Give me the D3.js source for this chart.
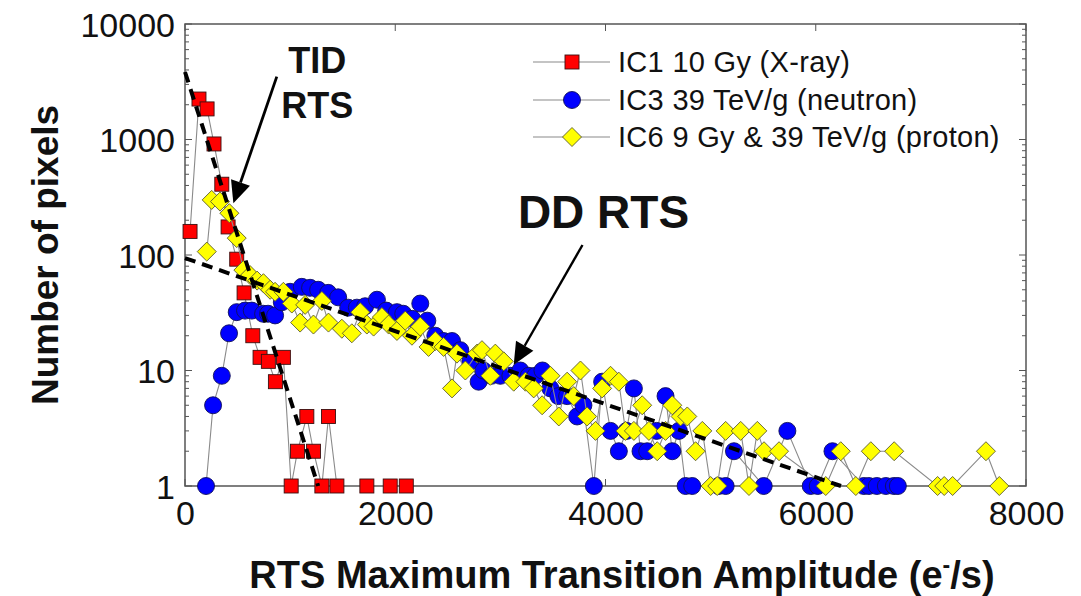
<!DOCTYPE html>
<html>
<head>
<meta charset="utf-8">
<script src="https://cdn.jsdelivr.net/npm/d3@7"></script>
<style>
  html, body { margin: 0; padding: 0; background: #fff; }
  svg { display: block; }
  text { font-family: "Liberation Sans", Arial, Helvetica, sans-serif; fill: #111; }
</style>
</head>
<body>
<svg id="chart" width="1081" height="596"></svg>
<script>
// RTS amplitude histograms for three irradiated image sensors
const ic1X = [48,133,210,276,350,410,492,562,645,714,793,860,936,1010,1070,1159,1222,1302,1365,1445,1730,1952,2105];
const ic1N = [160,2240,1840,915,410,175,92,47,20,13,12,8,13,1,2,4,2,1,4,1,1,1,1];

const ic3X = [200,267,350,419,492,571,635,743,790,857,921,1000,1111,1190,1267,1362,1457,1552,1635,1714,1826,1914,2016,2076,2162,2238,2305,2381,2460,2540,2619,2714,2793,2838,2914,3000,3095,3190,3270,3333,3400,3476,3552,3635,3730,3790,3889,3968,4048,4127,4200,4270,4333,4397,4486,4571,4635,4698,4762,4825,5076,5143,5222,5505,5730,5952,6019,6159,6457,6505,6581,6667,6743,6781];
const ic3N = [1,5,9,21,32,33,33,31,31,30,39,48,53,52,50,47,43,35,35,36,41,33,32,31,28,38,27,20,18,18,15,12,8,10,9,9,9,10,9,9,10,7,6,6,4,5,1,8,3,2,3,7,2,2,3,6,2,3,1,1,1,1,2,1,3,1,1,2,1,1,1,1,1,1];

const ic6X = [207,254,333,422,492,555,619,686,746,810,857,936,1016,1095,1143,1222,1302,1365,1492,1587,1667,1730,1794,1873,1937,2016,2095,2159,2238,2317,2381,2460,2540,2587,2667,2778,2825,2905,2952,3032,3127,3238,3317,3397,3476,3556,3635,3698,3762,3825,3905,3968,4048,4127,4190,4270,4349,4413,4492,4571,4635,4714,4778,4857,4921,5000,5063,5143,5286,5365,5444,5508,5651,6095,6238,6381,6524,6746,7159,7222,7302,7619,7746];
const ic6N = [107,300,290,230,140,74,67,60,57,50,48,48,38,26,37,25,40,26,23,21,32,25,24,29,25,22,27,20,24,16,18,16,7,14,10,14,15,9,14,12,8,8,7,5,9,4,8,6,10,4,3,7,9,8,3,3,5,3,2,3,5,4,4,2,3,1,1,3,3,1,3,2,2,1,2,1,2,2,1,1,1,2,1];

// Exponential fits (straight on the log axis): [amplitude, count] end points
const tidFit = [[0, 3840], [1267, 1]];
const ddFit = [[0, 94], [6240, 1]];

const seriesNames = ["IC1 10 Gy (X-ray)", "IC3 39 TeV/g (neutron)", "IC6 9 Gy & 39 TeV/g (proton)"];
const xTicks = [0, 2000, 4000, 6000, 8000];
const yTicks = [1, 10, 100, 1000, 10000];

const svg = d3.select("#chart");
const L = 185, R = 1026, T = 24, B = 486;

const x = d3.scaleLinear().domain([0, 8000]).range([L, R]);
const y = d3.scaleLog().domain([1, 10000]).range([B, T]);

const zip = (xs, ns) => xs.map((v, i) => [v, ns[i]]);
const ic1 = zip(ic1X, ic1N), ic3 = zip(ic3X, ic3N), ic6 = zip(ic6X, ic6N);

// Axes: ticks pointing inward on all four sides
const minorY = [];
for (let d = 1; d < 10000; d *= 10) for (let k = 1; k <= 9; k++) minorY.push(d * k);
minorY.push(10000);

const axisColor = "#555";
const frame = svg.append("g");

const gl = frame.append("g").attr("transform", `translate(${L},0)`);
const gr = frame.append("g").attr("transform", `translate(${R},0)`);
minorY.forEach(v => {
  const major = yTicks.includes(v);
  gl.append("line").attr("x1", 0).attr("x2", major ? 7 : 4)
    .attr("y1", y(v)).attr("y2", y(v)).attr("stroke", axisColor).attr("stroke-width", 1);
  gr.append("line").attr("x1", 0).attr("x2", major ? -7 : -4)
    .attr("y1", y(v)).attr("y2", y(v)).attr("stroke", axisColor).attr("stroke-width", 1);
});

// tick labels via axis generators
const yAxis = d3.axisLeft(y).tickValues(yTicks).tickFormat(d3.format("d")).tickSize(0).tickPadding(10);
const gyA = svg.append("g").attr("transform", `translate(${L},0)`).call(yAxis);
gyA.select(".domain").remove();
gyA.selectAll("text").attr("font-size", 34).attr("fill", "#111")
  .attr("font-family", "Liberation Sans, Arial, sans-serif").attr("dy", "0.36em");

const xAxis = d3.axisBottom(x).tickValues(xTicks).tickFormat(d3.format("d")).tickSize(0).tickPadding(13);
const gxA = svg.append("g").attr("transform", `translate(0,${B})`).call(xAxis);
gxA.select(".domain").remove();
gxA.selectAll("text").attr("font-size", 34).attr("fill", "#111")
  .attr("font-family", "Liberation Sans, Arial, sans-serif").attr("dy", "0.75em");

xTicks.forEach(v => {
  frame.append("line").attr("x1", x(v)).attr("x2", x(v)).attr("y1", B).attr("y2", B - 7)
    .attr("stroke", axisColor);
  frame.append("line").attr("x1", x(v)).attr("x2", x(v)).attr("y1", T).attr("y2", T + 7)
    .attr("stroke", axisColor);
});

frame.append("rect").attr("x", L).attr("y", T).attr("width", R - L).attr("height", B - T)
  .attr("fill", "none").attr("stroke", axisColor).attr("stroke-width", 1.5);

// Series: connecting line then markers
const line = d3.line().x(d => x(d[0])).y(d => y(d[1]));
const plot = svg.append("g");

const markerDraw = {
  square: (g, px, py) => g.append("rect").attr("x", px - 7).attr("y", py - 7).attr("width", 14).attr("height", 14),
  circle: (g, px, py) => g.append("circle").attr("cx", px).attr("cy", py).attr("r", 8.5),
  diamond: (g, px, py) => g.append("path").attr("d", `M${px},${py - 9.5}L${px + 9.5},${py}L${px},${py + 9.5}L${px - 9.5},${py}Z`)
};

const series = [
  { data: ic1, shape: "square", fill: "#ff0000", edge: "#3a1010" },
  { data: ic3, shape: "circle", fill: "#0000ff", edge: "#10105a" },
  { data: ic6, shape: "diamond", fill: "#ffff00", edge: "#5a5a30" }
];

series.forEach(s => {
  const g = plot.append("g");
  g.append("path").attr("d", line(s.data)).attr("fill", "none").attr("stroke", "#8a8a8a").attr("stroke-width", 1.1);
  s.data.forEach(d => {
    markerDraw[s.shape](g, x(d[0]), y(d[1])).attr("fill", s.fill).attr("stroke", s.edge).attr("stroke-width", 0.9);
  });
});

// Fit lines
[tidFit, ddFit].forEach(f => {
  plot.append("path").attr("d", line(f)).attr("fill", "none").attr("stroke", "#000")
    .attr("stroke-width", 4).attr("stroke-dasharray", "11,7");
});

// Annotation arrows
function arrow(from, to, w) {
  const x1 = x(from[0]), y1 = y(from[1]), x2 = x(to[0]), y2 = y(to[1]);
  const ang = Math.atan2(y2 - y1, x2 - x1);
  const hl = 22, hw = 10;
  const bx = x2 - hl * Math.cos(ang), by = y2 - hl * Math.sin(ang);
  svg.append("line").attr("x1", x1).attr("y1", y1).attr("x2", bx).attr("y2", by)
    .attr("stroke", "#000").attr("stroke-width", w);
  const px = -Math.sin(ang) * hw, py = Math.cos(ang) * hw;
  svg.append("path").attr("d", `M${x2},${y2}L${bx + px},${by + py}L${bx - px},${by - py}Z`).attr("fill", "#000");
}
arrow([873, 3500], [460, 280], 2.8);
arrow([3781, 122], [3127, 11.2], 2.4);

const ann = svg.append("g").attr("font-weight", "bold").attr("text-anchor", "middle");
ann.append("text").attr("x", x(1257)).attr("y", y(3770)).attr("font-size", 36).text("TID");
ann.append("text").attr("x", x(1257)).attr("y", y(1535)).attr("font-size", 36).text("RTS");
ann.append("text").attr("x", x(3981)).attr("y", y(171)).attr("font-size", 46).text("DD RTS");

// Axis titles
svg.append("text").attr("transform", `translate(58,${(T + B) / 2}) rotate(-90)`)
  .attr("text-anchor", "middle").attr("font-weight", "bold").attr("font-size", 37)
  .text("Number of pixels");
const xt = svg.append("text").attr("x", 622).attr("y", 588)
  .attr("text-anchor", "middle").attr("font-weight", "bold").attr("font-size", 38);
xt.append("tspan").text("RTS Maximum Transition Amplitude (e");
xt.append("tspan").attr("dy", -15).attr("font-size", 23).text("-");
xt.append("tspan").attr("dy", 15).text("/s)");

// Legend
const leg = svg.append("g");
const legY = [62, 100, 137];
series.forEach((s, i) => {
  const yy = legY[i];
  leg.append("line").attr("x1", 533).attr("x2", 610).attr("y1", yy).attr("y2", yy)
    .attr("stroke", "#8a8a8a").attr("stroke-width", 1.1);
  markerDraw[s.shape](leg, 572, yy).attr("fill", s.fill).attr("stroke", s.edge).attr("stroke-width", 0.9);
  leg.append("text").attr("x", 618).attr("y", yy).attr("dy", "0.36em").attr("font-size", 29)
    .attr("letter-spacing", 0.3).text(seriesNames[i]);
});
</script>
</body>
</html>
